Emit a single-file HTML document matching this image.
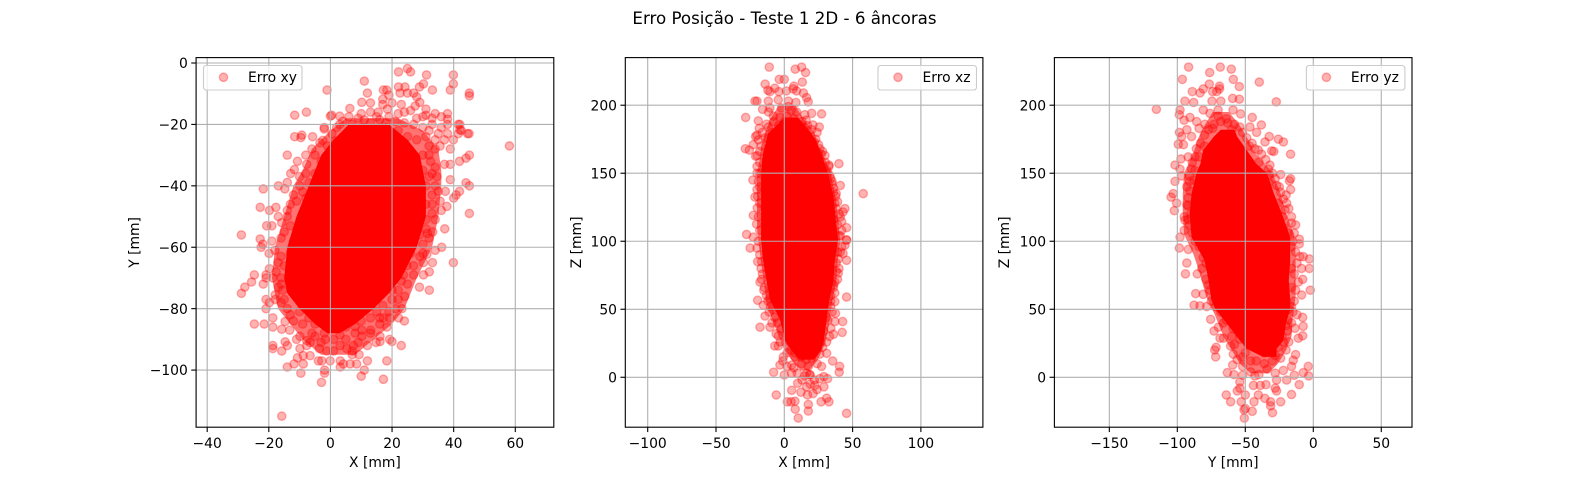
<!DOCTYPE html>
<html lang="pt">
<head>
<meta charset="utf-8">
<title>Erro Posição - Teste 1 2D - 6 âncoras</title>
<style>
html,body{margin:0;padding:0;background:#fff;width:1569px;height:480px;overflow:hidden}
svg{display:block}
text{font-family:"DejaVu Sans","Liberation Sans",sans-serif;fill:#000}
</style>
</head>
<body>
<svg id="chart" xmlns="http://www.w3.org/2000/svg" width="1569" height="480" viewBox="0 0 1569 480">
<text x="784.5" y="24" text-anchor="middle" font-size="16.67">Erro Posição - Teste 1 2D - 6 âncoras</text>
</svg>
<script>
// Individually readable markers (mm).
var xyPoints=[[58.1,-27],[25,-1.8],[22.1,-2.9],[26,-2.9],[31.2,-3.9],[39.9,-3.9],[39.9,-6.8],[11,-5.9],[30.2,-6.8],[28.9,-7.8],[22.1,-7.8],[24.2,-7.8],[-1.1,-8.8],[12,-9.8],[17.2,-8.8],[18.3,-8.8],[33.1,-8.8],[38.9,-8.8],[45.1,-9.8],[45.1,-10.7],[22.6,-9.8],[25,-9.8],[27,-9.8],[28,-11],[29,-12.8],[17,-11.8],[19,-10.5],[10.2,-12.8],[13,-13],[17,-13.5],[20,-13],[23,-13.5],[18.5,-15],[27.5,-14],[31,-15],[6.3,-14.8],[10,-16.5],[13,-16],[15.5,-16],[24,-16],[26,-15.5],[31,-17],[34,-16.5],[38,-16.5],[-11.6,-17],[-7.8,-16],[0,-17.3],[3,-17.3],[6,-17.5],[9,-18],[15,-17.5],[19,-17.5],[22,-16.5],[28,-18],[30,-17.5],[33,-18],[36,-17.5],[38,-18.3],[33,-20],[36,-21],[38,-20],[41.5,-20],[42.5,-22],[41.5,-23],[44.5,-23],[-2,-21.5],[0.5,-23],[2,-21],[-11.6,-24],[-9.6,-24.3],[-9.3,-23.5],[-5.8,-24],[-2.5,-25.2],[1.5,-25.5],[4,-19],[7,-20],[11,-18.5],[13,-19.5],[16,-18.5],[18,-19.5],[21,-19],[24,-19.5],[27,-20],[30,-21],[32,-22],[35,-23],[38,-23],[31,-24],[34,-25],[37,-25],[39.9,-25],[-14,-30],[-10.7,-32],[-21.8,-41],[-16.9,-40],[-14,-38.9],[-12.9,-36],[-11.7,-34.7],[-14.8,-41],[-22.8,-47],[-19.8,-48],[-17.7,-47],[-14,-48],[-16.9,-50],[-15.8,-52],[-20.7,-53],[-19,-53],[-28.9,-56],[-22.8,-57.3],[-9.9,-40],[-7.7,-33],[-3.4,-26],[-2,-21],[0.4,-17],[45.1,-49],[37.1,-54],[41.9,-41.8],[40.8,-43],[45.1,-40],[44,-39],[38.9,-38],[34.6,-37],[37.8,-46.7],[36,-48],[40,-44],[35.6,-45],[37.3,-41.8],[35,-41.8],[38.9,-28],[35.6,-27],[34,-28],[32.5,-32],[37,-33],[32,-27],[45.1,-30],[44,-31],[41.9,-32],[38.9,-33],[45,-23],[42,-20],[42,-21.7],[31,-54],[31.5,-55.5],[33.2,-55],[30,-30],[30,-35],[32,-37],[34,-34],[31,-40],[33,-43],[31,-46],[33,-49],[31,-51],[29,-56],[27,-58],[30,-59],[-6,-28],[-5,-30],[-8,-30],[-8,-36],[-10,-37],[-9,-42],[-12,-43],[-11,-45],[-13,-46],[-14,-50],[-13,-53],[-15,-55],[-16,-57],[-19,-58],[-21.9,-59],[-22.5,-60],[-18,-61],[-16,-63],[-19.9,-62],[-17,-65],[-28.9,-75],[-27.8,-73],[-25.6,-71.3],[-24.7,-69],[-20.9,-69],[-20.9,-70],[-18.7,-70],[-19.8,-67],[-21.8,-72],[-17.6,-68],[-16.9,-73],[-20.9,-77],[-19.8,-78],[-20.9,-80],[-17.9,-75.5],[-17.9,-77],[-24.7,-85],[-21.5,-85],[-18.7,-86],[-18.7,-83],[-14.7,-84.2],[-15.8,-86.7],[-13.2,-87],[-18.7,-92],[-18.7,-93],[-15.8,-93.8],[-14.7,-90.8],[-14,-92],[-14,-99],[-11.8,-98],[-9.6,-101],[-15.8,-115],[-2.9,-104],[-1.9,-101],[-1.9,-100],[-10.7,-96],[-8.8,-95.3],[-8.8,-98],[-6.6,-95.3],[-3.9,-97],[-2.8,-97],[-0.1,-97],[3.2,-97],[3.2,-99],[4.2,-98],[6.4,-98],[8.5,-98],[11,-100],[10,-102],[12,-97],[9.3,-95],[7.1,-95],[18.3,-97],[17.2,-103],[23,-92],[20,-90.7],[19.2,-90],[16.1,-89],[16.1,-90.7],[14.8,-91],[12,-92],[7.5,-92],[7.1,-93.8],[5.3,-93],[3.1,-92],[1,-93.8],[-1.2,-93.8],[-3.6,-93],[-7.7,-92],[-6.6,-91],[-9.9,-93],[-11,-90],[-9.9,-89],[-7.7,-90.4],[-5,-89],[-1.7,-90],[3.1,-88.5],[8,-85.8],[10.2,-87],[13.1,-87],[8,-88],[10.2,-89],[18.3,-86],[17.2,-83],[16,-83],[19.2,-83],[22.1,-83],[24,-84],[23.2,-80],[21.2,-80],[24.1,-76],[20,-74],[28.9,-73],[32.1,-74],[30.2,-69],[32.1,-68],[30.2,-65],[33.1,-65],[39.9,-65],[31.3,-62.3],[34,-61],[36.1,-60],[29,-63],[27,-69],[23.7,-69],[24.8,-66],[23,-71],[22,-74],[20,-77],[17,-79],[15,-81],[13,-83],[10,-84],[6,-83],[5,-86],[1,-86],[-2,-88],[-5,-85],[-7,-83],[-10,-81],[-12,-84],[-14,-80],[-15,-77],[-16,-70],[-15.5,-74],[3,-20],[6,-22],[10,-21],[14,-22],[18,-21],[22,-22],[25,-24],[28,-25],[-1,-27],[1,-29],[-3,-32],[-5,-36],[-7,-39],[-8,-44],[32,-30],[33,-36],[34,-40],[33,-46],[34,-51],[32,-57],[30,-62],[-12,-58],[-13,-62],[-15,-66],[-16,-72],[-16,-78],[-13,-82],[-9,-85],[-6,-88],[-3,-91],[1,-90],[5,-90],[9,-91],[13,-88],[16,-85],[19,-81],[22,-77],[25,-72],[27,-66],[26,-62]];
var xzPoints=[[-11,228],[8,226.5],[12.7,228],[15.6,224],[-3.7,219],[0,219],[13.2,217],[-14,215.5],[-7,212.5],[-12,211],[-10.5,210],[-3.9,210],[1.5,210.5],[7,214],[9,210.5],[6.5,212],[14,209],[16.3,205.6],[17.5,202.5],[-21.5,203],[-20,203],[-11.7,203],[-4.4,204],[3,203],[8.5,202],[-28.3,191],[-15.9,197],[-10.5,198],[-11.5,195],[-8,192],[-19,188.5],[-2,198],[3,199],[9,195],[15,193],[20,194],[27.3,193.6],[16,189],[21,185.5],[25.6,184],[-11.7,184],[-18.3,183],[-20,178],[-21,177],[-19,174.5],[-22.7,171],[-28.5,168],[-25.6,167],[-19.8,163],[-21,162.5],[-20,155],[40,157],[32.7,156],[29.8,163],[27,164],[25,171],[57.8,135],[41,141],[-23,145],[-19.5,133],[-21.5,132.5],[-22.7,119],[-19.8,124.5],[-27.6,105],[-22.7,103],[-20.3,112.6],[44.4,124],[39,129],[43,121.5],[37.6,133],[42,114.5],[45.6,110],[45.6,100.8],[34,123],[36,116],[32.7,155],[33.4,148],[36,139],[-25,95],[-20,95],[45.6,101],[44.4,97],[43,91],[45.6,86],[39.5,87],[-19.5,85],[-16.6,85],[39.5,76.5],[-17.8,70],[-16.6,72],[-14.6,66],[37,62],[45.6,59],[37,55.6],[-19.5,56.6],[-15.4,53],[37.5,47],[-14.1,45],[42.7,41],[37,41],[-17.8,36.8],[-10.5,36.8],[42.4,33],[36,31.6],[-4.4,30.4],[-7,23],[-4.4,23],[-0.7,15],[35.4,12],[31,17.6],[-3.2,9],[40.5,8],[40.2,3.7],[27.3,8],[-7.8,3.7],[0,1.7],[5.4,3],[9.5,3],[16.3,3],[19,1.7],[29,0.5],[31.7,-1],[9.8,-4.4],[16.3,-7],[29,-7],[22.4,-6],[5.4,-9.6],[12.2,-11],[17,-13],[21,-12],[-5.9,-13],[27,-18],[31,-15.4],[32.7,-18],[2.2,-18],[5,-18],[7.8,-17.6],[17.6,-20],[17.6,-24.8],[8,-23.5],[45.6,-26.5],[10.2,-30],[18.5,2],[20,14],[7.8,15],[12.7,10],[17.6,8],[5.4,9],[26,17],[24,10],[15,1],[22,-2],[26,-1],[19,-5],[24,-9],[13,-2],[7,7],[2,8],[-1,12],[2,18],[5,20],[9,22],[14,16],[22,20],[28,22],[31,26],[33,30],[34,36],[32,42],[35,48],[34,52],[-3,26],[-6,32],[-2,36],[-9,40],[-7,44],[-11,48],[-10,52],[-12,56],[-13,60],[-15,64],[34,60],[36,66],[37,70],[39,72],[40,80],[38,84],[41,92],[42,96],[40,104],[42,108],[39,112],[41,118],[38,124],[37,128],[36,136],[35,142],[34,146],[32,150],[30,158],[28,166],[26,168],[23,175],[24,180],[20,182],[17,185],[13,188],[7,190],[2,192],[-3,191],[-8,188],[-13,186],[-16,180],[-14,176],[-17,170],[-18,166],[-18,158],[-20,150],[-19,144],[-20,138],[-18,128],[-19,118],[-18,108],[-19,100],[-18,90],[-17,80],[-16,76],[5,196],[0,188],[10,186],[-4,185],[14,183],[-9,180],[17,178],[-12,175],[22,173],[25,165],[31,152],[35,144],[38,135],[-18,150],[-18,140],[40,120],[41,104],[39,92],[38,78],[36,68],[34,56],[31,44],[29,34],[27,26],[4,26],[1,32],[-5,40],[-9,50],[-11,58],[8,18],[12,15],[16,13],[20,18],[24,24]];
var yzPoints=[[-91.7,228],[-68.4,228],[-60.3,226.5],[-76.2,224],[-96.3,219],[-58.8,219],[-39.7,217],[-54.4,213.7],[-76.5,215.5],[-89,210],[-83.3,209],[-80.9,212],[-69,214],[-71,210],[-74,210],[-69,212],[-94.4,203],[-88,202],[-59.3,205],[-54.4,204.4],[-74.5,203],[-68,203],[-27.2,202.5],[-115.4,197],[-98,196.5],[-98.5,193],[-95,189],[-90.7,191],[-80.9,196.5],[-76,194],[-70,196.5],[-59,196.5],[-53.4,193.6],[-44.9,191],[-38.2,185.5],[-46.6,184],[-41.7,180],[-85.8,188],[-79.7,186],[-84,183],[-98.5,180],[-93,182],[-89.5,177],[-96.8,177],[-99.3,171.3],[-95.5,171],[-32.4,177],[-25.7,175],[-22,173],[-35.5,173],[-30.6,166.4],[-29,166],[-16.7,164],[-40.4,167],[-92,162],[-87,162],[-97.3,160.5],[-101.7,156],[-98,153],[-89.5,153],[-31.9,156],[-24,149],[-32.4,149],[-28,146],[-16.7,146],[-17.6,144.4],[-16.7,138],[-101.7,144],[-96.8,148],[-91,144],[-90.7,137],[-103,135],[-104.6,132.4],[-100.5,128],[-102.2,122.5],[-93,126.7],[-94.9,118],[-94.4,115.5],[-94.9,108],[-98,103],[-22,131],[-19.6,128],[-20.8,123],[-16,113.4],[-18.4,106],[-10.3,101.5],[-25,140],[-22.5,118],[-98.5,95],[-91.9,94],[-93,84],[-94,76],[-85.3,76],[-86.5,61.5],[-87.7,53],[-83.3,52.5],[-78.4,52],[-81,61],[-75.5,42.6],[-69.8,36.8],[-73,34],[-68.6,28.7],[-66,28.7],[-71.5,22],[-72.5,20],[-71.8,15],[-60.8,23],[-58.8,17],[-59.3,9],[-63.2,3.4],[-58.3,2],[-52,1.5],[-54,-3.4],[-55.9,-10],[-54,-8],[-64,-13],[-60.8,-18],[-50,-13],[-53,-18],[-50,-23],[-51,-24],[-50.7,-30],[-44.9,-25],[-43.6,-18],[-40.4,-13],[-35.6,-15.5],[-31.4,-18],[-31.4,-21],[-30,-26],[-24,-18],[-16,-12.7],[-10.3,-5.4],[-19.6,-2],[-27,-2],[-34.8,-5.4],[-39,-6],[-44,-6],[-43,1],[-28,-8],[-27,-10],[-14,1.5],[-7.4,3.4],[-3.7,8],[-3.4,1],[-16,8],[-14.7,12.5],[-13,16.7],[-11,28.7],[-7.8,30.5],[-13.5,36],[-7.4,37.5],[-7.8,44],[-12,46],[-2.2,64],[-8.6,60.5],[-7.8,72],[-11,70],[-2.9,80],[-8.6,80],[-2.9,87],[-7.4,88.7],[-10,88.7],[-10.3,98],[-52,8],[-46,4],[-40,2],[-34,6],[-28,3],[-22,5],[-36,10],[-30,12],[-24,14],[-46,12],[-52,15],[-56,13],[-58,24],[-54,28],[-20,20],[-18,26],[-19,34],[-16,40],[-15,48],[-14,56],[-13,64],[-14,76],[-12,84],[-13,92],[-15,100],[-14,106],[-13,112],[-16,118],[-18,124],[-20,134],[-24,136],[-27,141],[-30,150],[-33,153],[-35,160],[-38,164],[-43,168],[-45,172],[-49,176],[-52,180],[-54,184],[-58,186],[-63,187],[-68,188],[-73,186],[-77,182],[-80,178],[-83,172],[-86,168],[-89,158],[-87,152],[-91,148],[-93,140],[-92,132],[-90,120],[-91,112],[-89,106],[-84,96],[-81,88],[-82,80],[-79,72],[-76,64],[-75,56],[-68,48],[-64,42],[-59,36],[-54,32],[-48,24],[-42,22],[-36,18],[-26,22],[-23,30],[-20,38],[-18,50],[-70,192],[-64,190],[-74,183],[-60,182],[-80,170],[-47,170],[-84,162],[-40,158],[-88,145],[-33,143],[-92,126],[-26,128],[-92,116],[-22,110],[-87,100],[-16,96],[-79,84],[-16,80],[-77,68],[-16,66],[-72,52],[-16,52],[-66,40],[-19,42],[-60,30],[-22,26],[-50,18],[-28,16],[-42,12]];

// Saturated cores where overlapping markers merge into solid red: [ordinate, lowest abscissa, highest abscissa].
var xyCoreRows=[[-20,6,19],[-25,1,25],[-30,-3,29],[-40,-7,31],[-50,-11,31],[-60,-14,28],[-70,-15,23],[-75,-14,19],[-80,-10,14],[-85,-5,8],[-88,-1,3]];
var xzCoreRows=[[191,0,10],[184,-7,16],[179,-12,20],[174.5,-13,23],[162,-16,28],[150,-17,32],[133,-17,36],[113,-17,38],[101,-17,39.5],[86,-15.5,37],[71,-13,36],[57,-10.5,33],[42,-3,31],[27,0.5,29],[20,5,27],[13,11,22]];
var yzCoreRows=[[182,-68,-58],[177,-73,-56],[167,-81,-49],[157,-83,-42],[150,-86,-34],[135,-89.5,-29],[120,-91,-23],[103,-89.5,-17],[86,-80,-17],[71,-77,-18],[57,-75,-17],[50,-72,-17],[40,-64,-20],[27,-54,-22],[21,-49,-27],[15,-37,-27]];

// Partly merged bands around each core, same row layout.
var xyBandRows=[[-18,5,22],[-22,0,30],[-28,-6,35],[-35,-9,36],[-40,-12,36],[-50,-15,35],[-60,-18,33],[-70,-19,28],[-80,-17,24],[-85,-13,20],[-90,-9,14],[-95,-3,8]];
var xzBandRows=[[200,-4,8],[190,-10,14],[180,-14,22],[170,-17,25],[160,-18,30],[150,-20,34],[130,-20,38],[110,-20,40],[100,-19,41],[85,-17,39],[70,-15,38],[55,-13,35],[40,-8,33],[30,-4,31],[20,0,28],[12,6,24],[5,12,18]];
var yzBandRows=[[195,-74,-62],[185,-80,-54],[175,-85,-48],[165,-88,-43],[150,-95,-30],[135,-96,-24],[120,-96,-20],[105,-95,-14],[90,-88,-13],[75,-83,-13],[60,-79,-13],[45,-72,-15],[30,-66,-16],[20,-60,-20],[10,-54,-26],[3,-46,-33]];

// Axis limits and tick labels.
var xyXLimits=[-43.6,72.5];
var xyYLimits=[-118.6,1.76];
var xzXLimits=[-116.4,145.4];
var xzYLimits=[-36.7,235];
var yzXLimits=[-190.4,72.6];
var yzYLimits=[-36.7,235];
var xyXTicks=[-40,-20,0,20,40,60];
var xyYTicks=[0,-20,-40,-60,-80,-100];
var xzXTicks=[-100,-50,0,50,100];
var xzYTicks=[0,50,100,150,200];
var yzXTicks=[-150,-100,-50,0,50];
var yzYTicks=[0,50,100,150,200];

var svg=document.getElementById('chart');
var NS='http://www.w3.org/2000/svg';
function mk(tag,attrs,parent){var e=document.createElementNS(NS,tag);for(var k in attrs){e.setAttribute(k,attrs[k]);}parent.appendChild(e);return e;}
function lab(v){return String(v).replace('-','\u2212');}

function panel(id,box,xLim,yLim,xTicks,yTicks,points,coreRows,bandRows,xTitle,yTitle,yTitleX,legendText,legendX){
  var sx=function(v){return box.l+(v-xLim[0])/(xLim[1]-xLim[0])*(box.r-box.l);};
  var sy=function(v){return box.b-(v-yLim[0])/(yLim[1]-yLim[0])*(box.b-box.t);};
  var outline=function(rows){
    var left=rows.map(function(r){return sx(r[1]).toFixed(1)+','+sy(r[0]).toFixed(1);});
    var right=rows.slice().reverse().map(function(r){return sx(r[2]).toFixed(1)+','+sy(r[0]).toFixed(1);});
    return left.concat(right).join(' ');
  };
  var g=mk('g',{},svg);
  
  
  var cp=mk('clipPath',{id:id+'-clip'},g);
  mk('rect',{x:box.l,y:box.t,width:box.r-box.l,height:box.b-box.t},cp);
  var data=mk('g',{'clip-path':'url(#'+id+'-clip)'},g);
  
  
  var band=mk('polygon',{points:outline(bandRows),fill:'#f00','fill-opacity':.55},data);
  
  
  var core=mk('polygon',{points:outline(coreRows),fill:'#f00'},data);
  
  
  points.forEach(function(p){
    var c=mk('circle',{cx:sx(p[0]).toFixed(2),cy:sy(p[1]).toFixed(2),r:4.17,fill:'#f00','fill-opacity':.3,stroke:'#f00','stroke-opacity':.3,'stroke-width':1.39},data);
    
    
  });
  xTicks.forEach(function(t){
    var x=sx(t);
    var gl=mk('line',{x1:x,x2:x,y1:box.t,y2:box.b,stroke:'#b0b0b0','stroke-width':1.11},g);
    
    
    var tk=mk('line',{x1:x,x2:x,y1:box.b,y2:box.b+4.86,stroke:'#000','stroke-width':1.11},g);
    
    
    var tl=mk('text',{x:x,y:box.b+20.6,'text-anchor':'middle','font-size':13.89},g);
    
    
    tl.textContent=lab(t);
  });
  yTicks.forEach(function(t){
    var y=sy(t);
    var gl=mk('line',{x1:box.l,x2:box.r,y1:y,y2:y,stroke:'#b0b0b0','stroke-width':1.11},g);
    
    
    var tk=mk('line',{x1:box.l-4.86,x2:box.l,y1:y,y2:y,stroke:'#000','stroke-width':1.11},g);
    
    
    var tl=mk('text',{x:box.l-8.3,y:y+5.1,'text-anchor':'end','font-size':13.89},g);
    
    
    tl.textContent=lab(t);
  });
  var fr=mk('rect',{x:box.l,y:box.t,width:box.r-box.l,height:box.b-box.t,fill:'none',stroke:'#000','stroke-width':1.11},g);
  
  
  var xt=mk('text',{x:(box.l+box.r)/2,y:467,'text-anchor':'middle','font-size':13.89},g);
  
  
  xt.textContent=xTitle;
  var yc=(box.t+box.b)/2;
  var yt=mk('text',{x:yTitleX,y:yc,'text-anchor':'middle','font-size':13.89,transform:'rotate(-90 '+yTitleX+' '+yc+')'},g);
  
  
  yt.textContent=yTitle;
  var lg=mk('g',{},g);
  
  
  mk('rect',{x:legendX,y:65.5,width:98.5,height:24.5,rx:2.8,fill:'#fff','fill-opacity':.8,stroke:'#ccc','stroke-width':1.11},lg);
  var lm=mk('circle',{cx:legendX+20,cy:77.3,r:4.17,fill:'#f00','fill-opacity':.3,stroke:'#f00','stroke-opacity':.3,'stroke-width':1.39},lg);
  
  
  var lt=mk('text',{x:legendX+44.5,y:81.8,'font-size':13.89},lg);
  
  
  lt.textContent=legendText;
}
panel('xy',{l:196.1,r:553.8,t:57.6,b:427.2},xyXLimits,xyYLimits,xyXTicks,xyYTicks,xyPoints,xyCoreRows,xyBandRows,'X [mm]','Y [mm]',139,'Erro xy',203.5);
panel('xz',{l:625.3,r:982.9,t:57.6,b:427.2},xzXLimits,xzYLimits,xzXTicks,xzYTicks,xzPoints,xzCoreRows,xzBandRows,'X [mm]','Z [mm]',581,'Erro xz',878);
panel('yz',{l:1054.4,r:1412,t:57.6,b:427.2},yzXLimits,yzYLimits,yzXTicks,yzYTicks,yzPoints,yzCoreRows,yzBandRows,'Y [mm]','Z [mm]',1009,'Erro yz',1306.4);
</script>
</body>
</html>
